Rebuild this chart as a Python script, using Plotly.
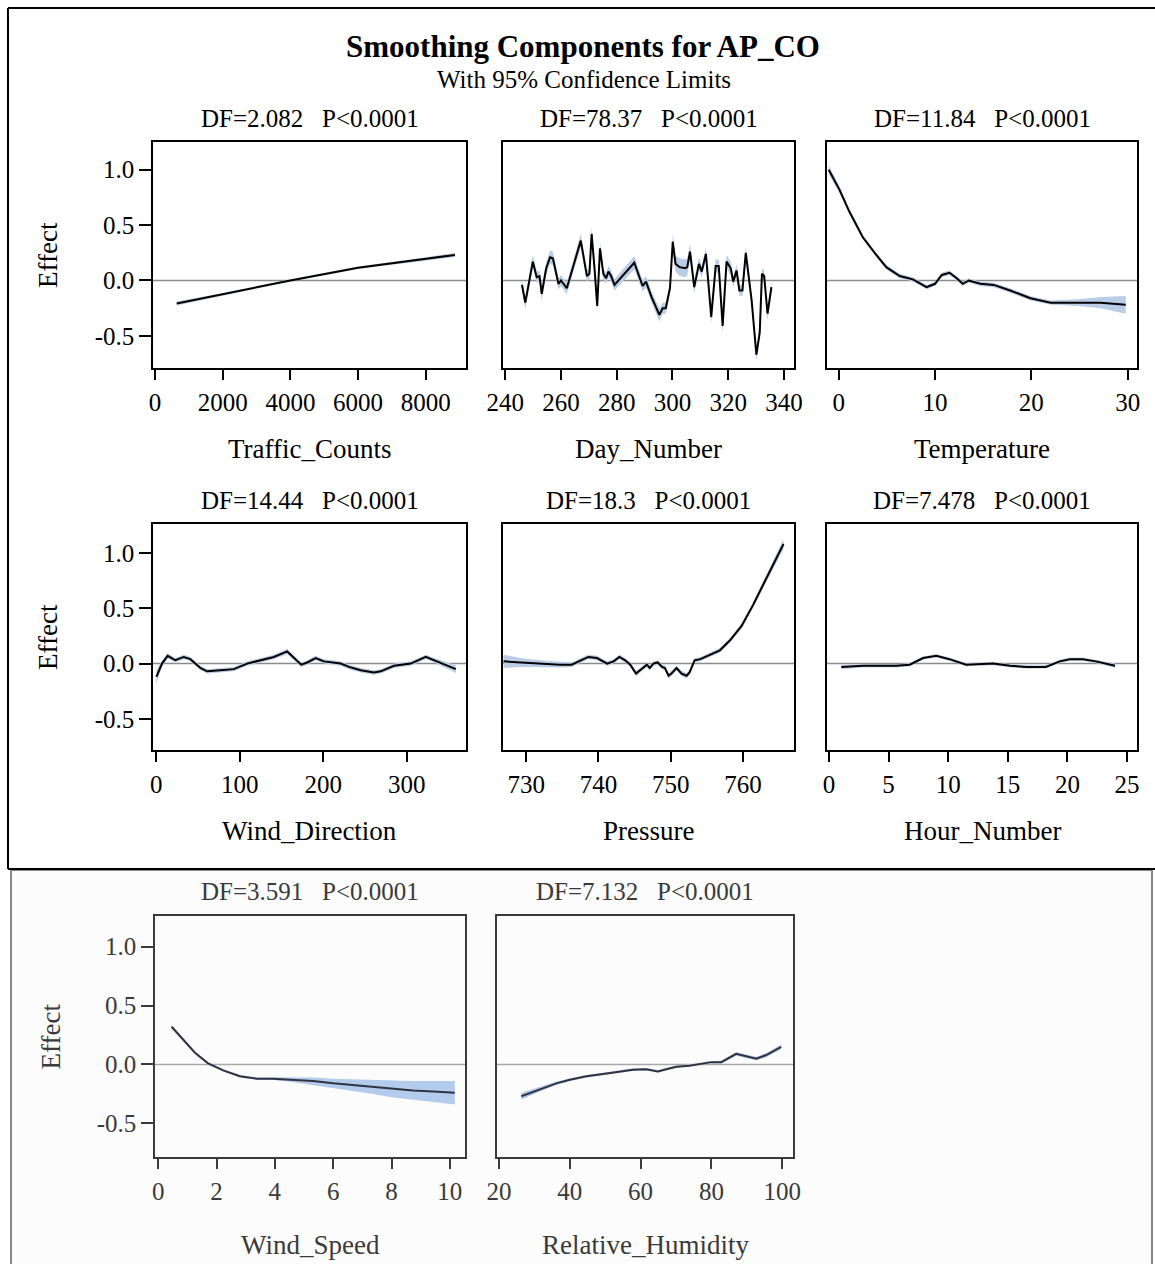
import plotly.graph_objects as go

# ---------------- data ----------------
traffic_x = [641, 2000, 4000, 6000, 8000, 8863]
traffic_eff = [-0.208, -0.125, 0.0, 0.115, 0.195, 0.231]
traffic_hw = [0.018, 0.013, 0.010, 0.012, 0.015, 0.02]

day_x = [246, 247.2, 249.9, 251.3, 252.3, 253.1, 254.7, 256.1, 257.1, 259.1, 260, 262.1,
         267.1, 269.3, 270.2, 271, 272, 273, 274, 275.2, 276.2, 277, 278, 279.2, 286.3,
         289.3, 290.5, 292.5, 295.3, 296.5, 297.6, 299.1, 300.1, 301.1, 302.6, 304.6,
         305.3, 306.3, 307.8, 309.5, 310.5, 312, 313.9, 315.5, 316.6, 318, 319.4, 320.9,
         321.8, 323, 324, 325.1, 326.3, 328.4, 330.1, 331.3, 332.1, 332.9, 334.1, 335.5]
day_eff = [-0.04, -0.20, 0.17, 0.03, 0.04, -0.12, 0.11, 0.21, 0.20, -0.03, 0.0, -0.07,
           0.36, 0.04, 0.06, 0.42, 0.12, -0.23, 0.29, 0.06, 0.02, 0.08, 0.04, -0.04, 0.16,
           -0.05, -0.01, -0.15, -0.31, -0.25, -0.25, -0.07, 0.35, 0.15, 0.12, 0.11,
           0.12, 0.26, -0.06, 0.15, 0.08, 0.24, -0.33, 0.13, 0.13, -0.41, 0.17, 0.11,
           -0.01, 0.09, -0.09, -0.09, 0.25, -0.18, -0.67, -0.47, 0.06, 0.04, -0.30, -0.06]
day_hw = [0.05, 0.06, 0.06, 0.05, 0.05, 0.06, 0.06, 0.06, 0.06, 0.05, 0.05, 0.05,
          0.06, 0.05, 0.05, 0.06, 0.05, 0.05, 0.06, 0.05, 0.05, 0.05, 0.05, 0.05, 0.06,
          0.05, 0.05, 0.05, 0.06, 0.05, 0.05, 0.05, 0.07, 0.07, 0.08, 0.08,
          0.08, 0.07, 0.06, 0.06, 0.05, 0.06, 0.06, 0.06, 0.06, 0.06, 0.06, 0.06,
          0.05, 0.05, 0.05, 0.05, 0.06, 0.05, 0.06, 0.06, 0.05, 0.05, 0.06, 0.06]

temp_x = [-1.04, 0.07, 1.11, 2.5, 3.9, 4.94, 6.33, 7.7, 9.12, 10.0, 10.7, 11.5, 12.25,
          12.88, 13.5, 14.7, 16.1, 17.8, 19.9, 22.0, 24.8, 27.2, 29.8]
temp_eff = [1.00, 0.82, 0.62, 0.39, 0.23, 0.12, 0.04, 0.01, -0.06, -0.03, 0.05, 0.07, 0.02,
            -0.03, 0.0, -0.03, -0.04, -0.09, -0.16, -0.20, -0.20, -0.20, -0.22]
temp_hw = [0.04, 0.03, 0.025, 0.02, 0.02, 0.02, 0.02, 0.02, 0.02, 0.02, 0.02, 0.02, 0.02,
           0.02, 0.02, 0.02, 0.02, 0.02, 0.02, 0.02, 0.03, 0.05, 0.08]

wdir_x = [0, 6.8, 13.6, 22.8, 32.8, 40.8, 52.8, 60.8, 76.8, 92.8, 108.8, 124.8, 140.8,
          156.8, 164.8, 173.6, 180.8, 190.8, 200.8, 212.8, 220.8, 230.8, 244.8, 260.8,
          268.8, 284.8, 304.8, 322.8, 332.8, 358.8]
wdir_eff = [-0.12, 0.0, 0.07, 0.03, 0.06, 0.04, -0.04, -0.07, -0.06, -0.05, 0.0, 0.03, 0.06,
            0.11, 0.05, -0.01, 0.01, 0.05, 0.02, 0.01, 0.0, -0.03, -0.06, -0.08,
            -0.07, -0.02, 0.0, 0.06, 0.03, -0.05]
wdir_hw = [0.06, 0.03, 0.025, 0.02, 0.02, 0.02, 0.02, 0.02, 0.02, 0.02, 0.02, 0.02, 0.02,
           0.025, 0.02, 0.02, 0.02, 0.02, 0.02, 0.02, 0.02, 0.02, 0.02, 0.02,
           0.02, 0.02, 0.02, 0.02, 0.02, 0.035]

pres_x = [726.87, 729.2, 731.9, 734.7, 736.3, 737.5, 738.6, 739.8, 741.2, 742.1, 742.9,
          743.7, 744.4, 745.2, 746.0, 746.7, 747.1, 747.6, 748.2, 748.8, 749.2, 749.7,
          750.1, 750.8, 751.5, 752.2, 752.6, 753.3, 754.1, 755.4, 756.8, 758.2, 759.8,
          761.4, 762.8, 764.2, 765.6]
pres_eff = [0.02, 0.01, 0.0, -0.01, -0.01, 0.03, 0.06, 0.05, 0.0, 0.02, 0.06,
            0.03, -0.01, -0.09, -0.05, -0.01, -0.04, 0.0, 0.01, -0.03, -0.04, -0.11,
            -0.09, -0.04, -0.09, -0.11, -0.08, 0.03, 0.04, 0.08, 0.12, 0.21, 0.34,
            0.53, 0.71, 0.89, 1.08]
pres_hw = [0.06, 0.04, 0.03, 0.025, 0.02, 0.02, 0.02, 0.02, 0.02, 0.02, 0.02,
           0.02, 0.02, 0.025, 0.02, 0.02, 0.02, 0.02, 0.02, 0.02, 0.02, 0.025,
           0.025, 0.02, 0.025, 0.025, 0.025, 0.02, 0.02, 0.02, 0.02, 0.02, 0.025,
           0.025, 0.03, 0.035, 0.045]

hour_x = [1.03, 2.85, 4.25, 5.65, 6.77, 7.89, 9.0, 10.1, 11.5, 13.76, 15.2, 16.55, 18.2,
          19.35, 20.2, 21.3, 22.4, 24.0]
hour_eff = [-0.03, -0.02, -0.02, -0.02, -0.01, 0.05, 0.07, 0.04, -0.01, 0.0, -0.02, -0.03,
            -0.03, 0.02, 0.04, 0.04, 0.02, -0.02]
hour_hw = [0.02, 0.015, 0.015, 0.015, 0.015, 0.015, 0.015, 0.015, 0.015, 0.015, 0.015, 0.015,
           0.015, 0.015, 0.015, 0.015, 0.015, 0.02]

wspd_x = [0.46, 0.86, 1.26, 1.71, 2.23, 2.8, 3.37, 3.94, 4.63, 5.31, 6.0, 6.69, 7.37,
          8.06, 8.74, 9.43, 10.17]
wspd_eff = [0.32, 0.21, 0.10, 0.01, -0.05, -0.10, -0.12, -0.12, -0.13, -0.14, -0.16,
            -0.175, -0.19, -0.21, -0.22, -0.23, -0.24]
wspd_hw = [0.015, 0.012, 0.01, 0.01, 0.01, 0.01, 0.01, 0.012, 0.02, 0.03, 0.04,
           0.05, 0.06, 0.07, 0.08, 0.09, 0.10]

rh_x = [26.3, 31.5, 36.2, 40, 44.7, 49.4, 54.1, 57.8, 61.6, 63.5, 64.9, 67.2, 70.1, 73.8,
        77.6, 80, 82.8, 84.7, 87.0, 89.8, 92.7, 95.5, 99.7]
rh_eff = [-0.27, -0.21, -0.16, -0.13, -0.10, -0.08, -0.06, -0.045, -0.04, -0.05, -0.06,
          -0.04, -0.02, -0.01, 0.01, 0.02, 0.02, 0.05, 0.09, 0.07, 0.05, 0.08, 0.15]
rh_hw = [0.03, 0.02, 0.015, 0.012, 0.01, 0.01, 0.01, 0.01, 0.01, 0.01, 0.01,
         0.01, 0.01, 0.01, 0.01, 0.01, 0.012, 0.015, 0.015, 0.015, 0.015, 0.018, 0.02]

df_labels = ["DF=2.082", "DF=78.37", "DF=11.84", "DF=14.44", "DF=18.3", "DF=7.478",
             "DF=3.591", "DF=7.132"]
p_label = "P<0.0001"
var_names = ["Traffic_Counts", "Day_Number", "Temperature", "Wind_Direction", "Pressure",
             "Hour_Number", "Wind_Speed", "Relative_Humidity"]
y_ticks = [-0.5, 0.0, 0.5, 1.0]
y_ticktext = ["-0.5", "0.0", "0.5", "1.0"]

# ---------------- layout helpers ----------------
W, H = 1155, 1264
FONT = "Liberation Serif"


def fx(x):
    return x / W


def fy(y):
    return 1 - y / H


panels = [
    dict(x=traffic_x, y=traffic_eff, hw=traffic_hw, box=(153, 466, 142, 368),
         xr=[-60, 9190], xt=[0, 2000, 4000, 6000, 8000], yr=[-0.79, 1.25], first=True, row=1),
    dict(x=day_x, y=day_eff, hw=day_hw, box=(503, 794, 142, 368),
         xr=[239.2, 343.6], xt=[240, 260, 280, 300, 320, 340], yr=[-0.79, 1.25], first=False, row=1),
    dict(x=temp_x, y=temp_eff, hw=temp_hw, box=(827, 1137, 142, 368),
         xr=[-1.22, 30.97], xt=[0, 10, 20, 30], yr=[-0.79, 1.25], first=False, row=1),
    dict(x=wdir_x, y=wdir_eff, hw=wdir_hw, box=(153, 466, 524, 750),
         xr=[-4, 371], xt=[0, 100, 200, 300], yr=[-0.78, 1.26], first=True, row=2),
    dict(x=pres_x, y=pres_eff, hw=pres_hw, box=(503, 794, 524, 750),
         xr=[726.8, 767.05], xt=[730, 740, 750, 760], yr=[-0.78, 1.26], first=False, row=2),
    dict(x=hour_x, y=hour_eff, hw=hour_hw, box=(827, 1137, 524, 750),
         xr=[-0.17, 25.84], xt=[0, 5, 10, 15, 20, 25], yr=[-0.78, 1.26], first=False, row=2),
    dict(x=wspd_x, y=wspd_eff, hw=wspd_hw, box=(155, 465, 916, 1157),
         xr=[-0.11, 10.52], xt=[0, 2, 4, 6, 8, 10], yr=[-0.785, 1.26], first=True, row=3),
    dict(x=rh_x, y=rh_eff, hw=rh_hw, box=(497, 793, 916, 1157),
         xr=[19.44, 103.05], xt=[20, 40, 60, 80, 100], yr=[-0.785, 1.26], first=False, row=3),
]

fig = go.Figure()
layout = dict(
    template="none",
    width=W, height=H, margin=dict(l=0, r=0, t=0, b=0, pad=0, autoexpand=False),
    paper_bgcolor="white", plot_bgcolor="white", showlegend=False,
    font=dict(family=FONT, color="black"),
)
annotations = []
shapes = []

# frames of the two screenshot sections
shapes.append(dict(type="rect", xref="paper", yref="paper", x0=fx(11), x1=fx(1152),
                   y0=fy(1266), y1=fy(870), line=dict(color="#888888", width=2),
                   fillcolor="#fcfcfc", layer="below"))
for (x0, y0, x1, y1) in [(8, 8, 1160, 8), (8, 8, 8, 869), (8, 869, 1160, 869)]:
    shapes.append(dict(type="line", xref="paper", yref="paper", x0=fx(x0), x1=fx(x1),
                       y0=fy(y0), y1=fy(y1), line=dict(color="black", width=2)))

for i, p in enumerate(panels, start=1):
    sfx = "" if i == 1 else str(i)
    xa, ya = "x" + sfx, "y" + sfx
    top_row = p["row"] < 3
    ink = "black" if top_row else "#3a3a3a"
    line_col = "black" if top_row else "#2f3440"
    band_col = "#b9cde6" if top_row else "#b3cbec"
    zero_col = "#8c8c8c" if top_row else "#a8a8a8"
    l, r, t, b = p["box"]

    upper = [v + h for v, h in zip(p["y"], p["hw"])]
    lower = [v - h for v, h in zip(p["y"], p["hw"])]
    fig.add_trace(go.Scatter(x=p["x"] + p["x"][::-1], y=upper + lower[::-1], fill="toself",
                             fillcolor=band_col, line=dict(width=0), mode="lines",
                             hoverinfo="skip", xaxis=xa, yaxis=ya))
    fig.add_trace(go.Scatter(x=p["x"], y=p["y"], mode="lines",
                             line=dict(color=line_col, width=2), xaxis=xa, yaxis=ya))

    shapes.append(dict(type="line", xref=xa + " domain", yref=ya, x0=0, x1=1, y0=0, y1=0,
                       line=dict(color=zero_col, width=1.5), layer="below"))

    layout["xaxis" + sfx] = dict(
        domain=[fx(l), fx(r)], range=p["xr"], tickvals=p["xt"], ticks="outside",
        ticklen=10, tickwidth=1.5, tickcolor=ink, showline=True, mirror=True,
        linecolor=ink, linewidth=1.5, showgrid=False, zeroline=False, anchor=ya,
        tickfont=dict(family=FONT, size=25, color=ink), ticklabelstandoff=1,
        automargin=False, fixedrange=True)
    layout["yaxis" + sfx] = dict(
        domain=[fy(b), fy(t)], range=p["yr"], tickvals=y_ticks, ticktext=y_ticktext,
        ticks="outside" if p["first"] else "", ticklen=12, tickwidth=1.5, tickcolor=ink,
        showticklabels=p["first"], showline=True, mirror=True, linecolor=ink, linewidth=1.5,
        showgrid=False, zeroline=False, anchor=xa, automargin=False,
        tickfont=dict(family=FONT, size=25, color=ink), fixedrange=True)

    cx = (l + r) / 2
    title_y = t - 24 if top_row else t - 25
    annotations.append(dict(text=df_labels[i - 1] + "\u00a0\u00a0\u00a0" + p_label,
                            xref="paper", yref="paper", x=fx(cx), y=fy(title_y),
                            xanchor="center", yanchor="middle", showarrow=False,
                            font=dict(family=FONT, size=25, color=ink)))
    annotations.append(dict(text=var_names[i - 1], xref="paper", yref="paper", x=fx(cx),
                            y=fy(b + 81 if top_row else b + 88), xanchor="center",
                            yanchor="middle", showarrow=False,
                            font=dict(family=FONT, size=27, color=ink)))
    if p["first"]:
        annotations.append(dict(text="Effect", xref="paper", yref="paper",
                                x=fx(48 if top_row else 50), y=fy((t + b) / 2),
                                xanchor="center", yanchor="middle", textangle=-90,
                                showarrow=False, font=dict(family=FONT, size=27, color=ink)))

annotations.append(dict(text="<b>Smoothing Components for AP_CO</b>", xref="paper",
                        yref="paper", x=fx(583), y=fy(47), xanchor="center", yanchor="middle",
                        showarrow=False, font=dict(family=FONT, size=31, color="black")))
annotations.append(dict(text="With 95% Confidence Limits", xref="paper", yref="paper",
                        x=fx(584), y=fy(79), xanchor="center", yanchor="middle",
                        showarrow=False, font=dict(family=FONT, size=25, color="black")))

layout["annotations"] = annotations
layout["shapes"] = shapes
fig.update_layout(**layout)
fig.write_html(
    "out.html",
    config={"displayModeBar": False},
    post_script="document.body.style.margin='0';document.body.style.overflow='hidden';",
)
